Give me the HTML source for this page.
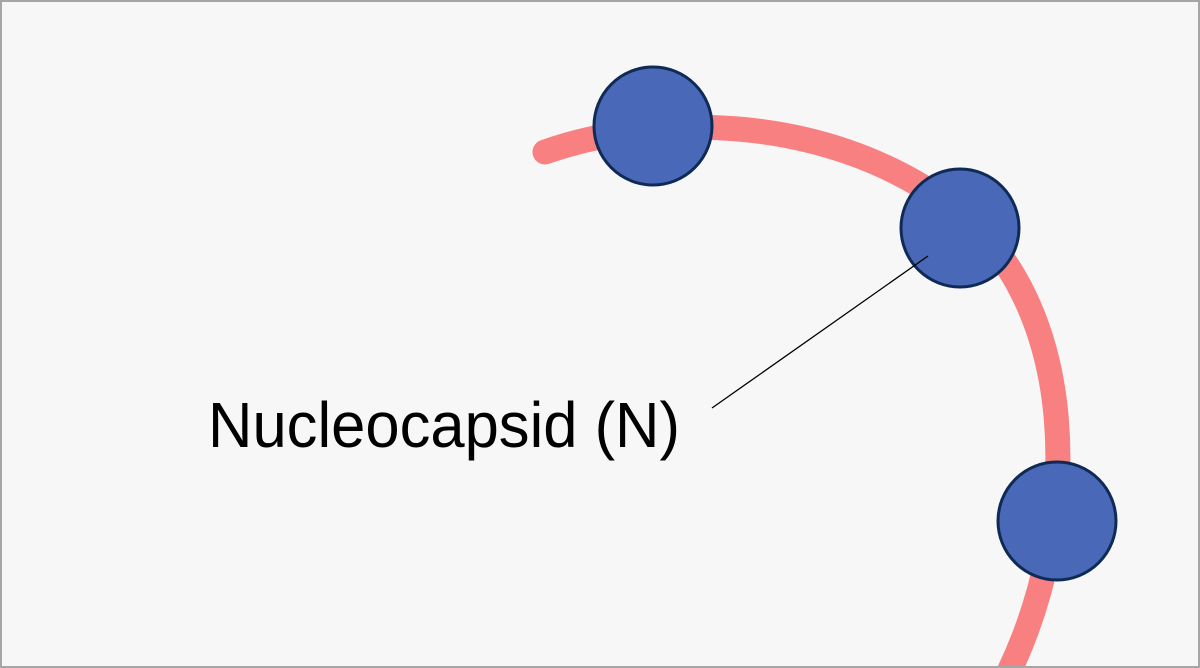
<!DOCTYPE html>
<html><head><meta charset="utf-8"><style>
html,body{margin:0;padding:0;background:#f7f7f7;}
.wrap{width:1200px;height:668px;box-sizing:border-box;border:2px solid #a6a6a6;background:#f7f7f7;position:relative;overflow:hidden;}
svg{position:absolute;left:-2px;top:-2px;}
</style></head><body><div class="wrap">
<svg width="1200" height="668" viewBox="0 0 1200 668">
<path d="M545,152 C650,115 820,110 950,205 C1080,300 1085,520 1005,680" fill="none" stroke="#f88080" stroke-width="25" stroke-linecap="round"/>
<circle cx="653" cy="126" r="59" fill="#4a68b8" stroke="#0f2a55" stroke-width="3"/>
<circle cx="960" cy="228" r="59" fill="#4a68b8" stroke="#0f2a55" stroke-width="3"/>
<circle cx="1057" cy="521" r="59" fill="#4a68b8" stroke="#0f2a55" stroke-width="3"/>
<line x1="712" y1="408" x2="928" y2="256" stroke="#000" stroke-width="1.3"/>
<text x="208" y="447" font-family="Liberation Sans, sans-serif" font-size="64" fill="#000" textLength="472" lengthAdjust="spacingAndGlyphs">Nucleocapsid (N)</text>
</svg>
</div></body></html>
